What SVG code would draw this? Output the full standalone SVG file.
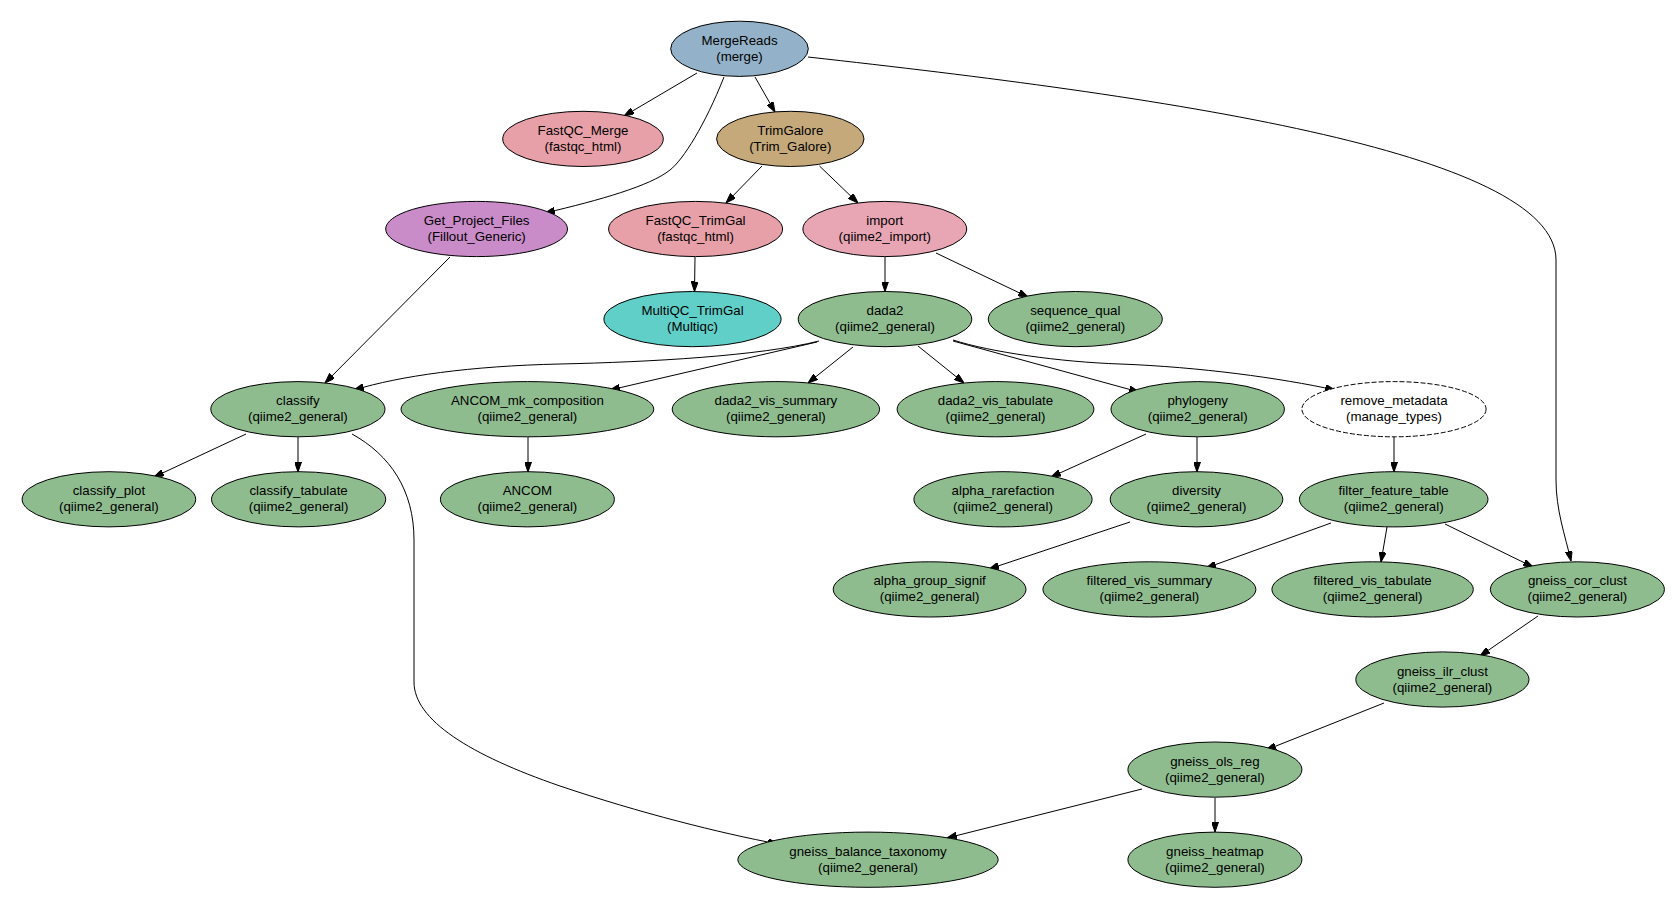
<svg xmlns="http://www.w3.org/2000/svg" width="1679" height="909" viewBox="0 0 1679 909">
<style>
.n ellipse{stroke:#000;stroke-width:1}
.n text{font-family:"Liberation Sans",Arial,sans-serif;font-size:13.3px;fill:#000;text-anchor:middle}
.g{fill:#8fbc8f}
.e path{fill:none;stroke:#000;stroke-width:1;marker-end:url(#ah)}
</style>
<defs>
<marker id="ah" viewBox="0 0 10 7" refX="10" refY="3.5" markerWidth="10" markerHeight="7" markerUnits="userSpaceOnUse" orient="auto">
<path d="M0,0 L10,3.5 L0,7 Z" fill="#000" stroke="#000" stroke-width="1"/>
</marker>
</defs>
<rect width="1679" height="909" fill="#fff"/>
<g id="edges" class="e">
<path d="M697,73 L624,116"/>
<path d="M755,77 L775,112"/>
<path d="M724,77 C705,125 683,160 670,170 C650,186 600,200 545,213"/>
<path d="M762,166 L726,203"/>
<path d="M819.5,166 L858,203"/>
<path d="M695,257 L694.5,291.5"/>
<path d="M885,257 L885,291.5"/>
<path d="M936,253 L1028,297"/>
<path d="M450,257 L325,383"/>
<path d="M808,57 C1150,95 1556,150 1556,260 L1556,480 C1556,510 1565,535 1571,561"/>
<path d="M819,341 C760,356 650,362 560,364 C470,366 400,376 354,390"/>
<path d="M817,342 L610,390"/>
<path d="M853,347 L808,383"/>
<path d="M918,346 L964,383"/>
<path d="M953,341 L1139,392"/>
<path d="M953,340 C990,352 1060,362 1120,364 C1200,367 1280,378 1335,390"/>
<path d="M246,434 L154,477"/>
<path d="M298,437 L298,472"/>
<path d="M352,434 C390,455 414,490 414,540 L414,682 C414,720 470,755 560,786 C640,813 720,833 778,844"/>
<path d="M528,437 L528,472"/>
<path d="M1146,434 L1051,477"/>
<path d="M1197,437 L1197,472"/>
<path d="M1130,522 L989,569"/>
<path d="M1394,437 L1394,472"/>
<path d="M1331,523 L1206,568"/>
<path d="M1387,527 L1381,562"/>
<path d="M1445,524 L1533,567"/>
<path d="M1538,616 L1480,656"/>
<path d="M1384,703 L1266,750"/>
<path d="M1215,798 L1215,832"/>
<path d="M1142,789 L947,838"/>
</g>
<g id="MergeReads" class="n"><ellipse cx="739.5" cy="48.8" rx="68.8" ry="27.6" fill="#93b2c9"/><text x="739.5" y="44.8">MergeReads</text><text x="739.5" y="60.8">(merge)</text></g>
<g id="FastQC_Merge" class="n"><ellipse cx="583" cy="138.9" rx="80.3" ry="27.6" fill="#e8a0a8"/><text x="583" y="134.9">FastQC_Merge</text><text x="583" y="150.9">(fastqc_html)</text></g>
<g id="TrimGalore" class="n"><ellipse cx="790.3" cy="138.9" rx="73.7" ry="27.6" fill="#c5a97a"/><text x="790.3" y="134.9">TrimGalore</text><text x="790.3" y="150.9">(Trim_Galore)</text></g>
<g id="Get_Project_Files" class="n"><ellipse cx="476.6" cy="229" rx="90.9" ry="27.6" fill="#c98cc9"/><text x="476.6" y="225">Get_Project_Files</text><text x="476.6" y="241">(Fillout_Generic)</text></g>
<g id="FastQC_TrimGal" class="n"><ellipse cx="695.6" cy="229" rx="87" ry="27.6" fill="#e8a0a8"/><text x="695.6" y="225">FastQC_TrimGal</text><text x="695.6" y="241">(fastqc_html)</text></g>
<g id="import" class="n"><ellipse cx="884.8" cy="229" rx="81.9" ry="27.6" fill="#e8a6b5"/><text x="884.8" y="225">import</text><text x="884.8" y="241">(qiime2_import)</text></g>
<g id="MultiQC_TrimGal" class="n"><ellipse cx="692.5" cy="319.1" rx="88.6" ry="27.6" fill="#60cfc8"/><text x="692.5" y="315.1">MultiQC_TrimGal</text><text x="692.5" y="331.1">(Multiqc)</text></g>
<g id="dada2" class="n"><ellipse cx="885" cy="319.1" rx="86.8" ry="27.6" class="g"/><text x="885" y="315.1">dada2</text><text x="885" y="331.1">(qiime2_general)</text></g>
<g id="sequence_qual" class="n"><ellipse cx="1075.3" cy="319.1" rx="87" ry="27.6" class="g"/><text x="1075.3" y="315.1">sequence_qual</text><text x="1075.3" y="331.1">(qiime2_general)</text></g>
<g id="classify" class="n"><ellipse cx="297.9" cy="409.2" rx="87.1" ry="27.6" class="g"/><text x="297.9" y="405.2">classify</text><text x="297.9" y="421.2">(qiime2_general)</text></g>
<g id="ANCOM_mk_composition" class="n"><ellipse cx="527.4" cy="409.2" rx="126.4" ry="27.6" class="g"/><text x="527.4" y="405.2">ANCOM_mk_composition</text><text x="527.4" y="421.2">(qiime2_general)</text></g>
<g id="dada2_vis_summary" class="n"><ellipse cx="775.9" cy="409.2" rx="103.7" ry="27.6" class="g"/><text x="775.9" y="405.2">dada2_vis_summary</text><text x="775.9" y="421.2">(qiime2_general)</text></g>
<g id="dada2_vis_tabulate" class="n"><ellipse cx="995.5" cy="409.2" rx="98.4" ry="27.6" class="g"/><text x="995.5" y="405.2">dada2_vis_tabulate</text><text x="995.5" y="421.2">(qiime2_general)</text></g>
<g id="phylogeny" class="n"><ellipse cx="1197.7" cy="409.2" rx="86.7" ry="27.6" class="g"/><text x="1197.7" y="405.2">phylogeny</text><text x="1197.7" y="421.2">(qiime2_general)</text></g>
<g id="remove_metadata" class="n"><ellipse cx="1394" cy="409.2" rx="92.1" ry="27.6" fill="#fff" stroke-dasharray="5,2"/><text x="1394" y="405.2">remove_metadata</text><text x="1394" y="421.2">(manage_types)</text></g>
<g id="classify_plot" class="n"><ellipse cx="108.9" cy="499.3" rx="86.8" ry="27.6" class="g"/><text x="108.9" y="495.3">classify_plot</text><text x="108.9" y="511.3">(qiime2_general)</text></g>
<g id="classify_tabulate" class="n"><ellipse cx="298.6" cy="499.3" rx="87.1" ry="27.6" class="g"/><text x="298.6" y="495.3">classify_tabulate</text><text x="298.6" y="511.3">(qiime2_general)</text></g>
<g id="ANCOM" class="n"><ellipse cx="527.4" cy="499.3" rx="87" ry="27.6" class="g"/><text x="527.4" y="495.3">ANCOM</text><text x="527.4" y="511.3">(qiime2_general)</text></g>
<g id="alpha_rarefaction" class="n"><ellipse cx="1003" cy="499.3" rx="89.1" ry="27.6" class="g"/><text x="1003" y="495.3">alpha_rarefaction</text><text x="1003" y="511.3">(qiime2_general)</text></g>
<g id="diversity" class="n"><ellipse cx="1196.5" cy="499.3" rx="86.3" ry="27.6" class="g"/><text x="1196.5" y="495.3">diversity</text><text x="1196.5" y="511.3">(qiime2_general)</text></g>
<g id="filter_feature_table" class="n"><ellipse cx="1393.7" cy="499.3" rx="94.3" ry="27.6" class="g"/><text x="1393.7" y="495.3">filter_feature_table</text><text x="1393.7" y="511.3">(qiime2_general)</text></g>
<g id="alpha_group_signif" class="n"><ellipse cx="929.6" cy="589.4" rx="96.4" ry="27.6" class="g"/><text x="929.6" y="585.4">alpha_group_signif</text><text x="929.6" y="601.4">(qiime2_general)</text></g>
<g id="filtered_vis_summary" class="n"><ellipse cx="1149.4" cy="589.4" rx="106.5" ry="27.6" class="g"/><text x="1149.4" y="585.4">filtered_vis_summary</text><text x="1149.4" y="601.4">(qiime2_general)</text></g>
<g id="filtered_vis_tabulate" class="n"><ellipse cx="1372.6" cy="589.4" rx="100.7" ry="27.6" class="g"/><text x="1372.6" y="585.4">filtered_vis_tabulate</text><text x="1372.6" y="601.4">(qiime2_general)</text></g>
<g id="gneiss_cor_clust" class="n"><ellipse cx="1577.4" cy="589.4" rx="87" ry="27.6" class="g"/><text x="1577.4" y="585.4">gneiss_cor_clust</text><text x="1577.4" y="601.4">(qiime2_general)</text></g>
<g id="gneiss_ilr_clust" class="n"><ellipse cx="1442.4" cy="679.5" rx="86.6" ry="27.6" class="g"/><text x="1442.4" y="675.5">gneiss_ilr_clust</text><text x="1442.4" y="691.5">(qiime2_general)</text></g>
<g id="gneiss_ols_reg" class="n"><ellipse cx="1214.9" cy="769.6" rx="87" ry="27.6" class="g"/><text x="1214.9" y="765.6">gneiss_ols_reg</text><text x="1214.9" y="781.6">(qiime2_general)</text></g>
<g id="gneiss_balance_taxonomy" class="n"><ellipse cx="868" cy="859.7" rx="130.2" ry="27.6" class="g"/><text x="868" y="855.7">gneiss_balance_taxonomy</text><text x="868" y="871.7">(qiime2_general)</text></g>
<g id="gneiss_heatmap" class="n"><ellipse cx="1214.9" cy="859.7" rx="87" ry="27.6" class="g"/><text x="1214.9" y="855.7">gneiss_heatmap</text><text x="1214.9" y="871.7">(qiime2_general)</text></g>
</svg>
